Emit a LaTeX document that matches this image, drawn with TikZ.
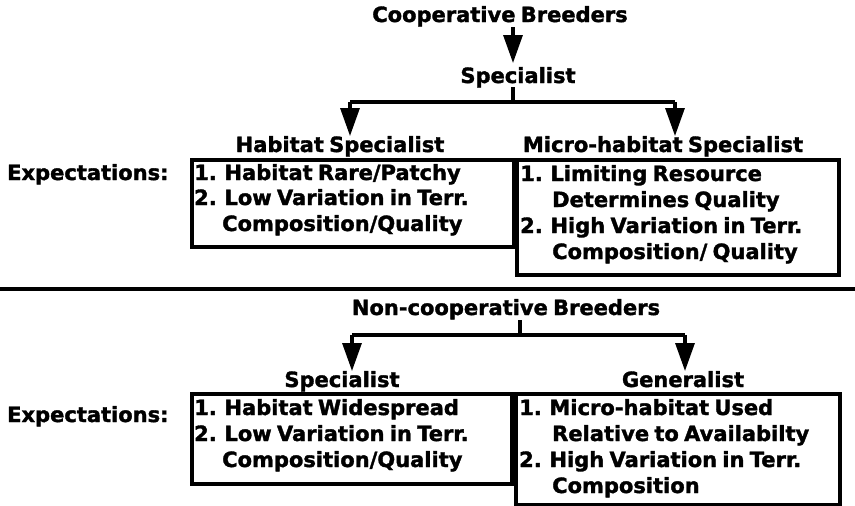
\documentclass[tikz,border=0pt]{standalone}
\usepackage{fontspec}
\setmainfont{DejaVu Sans}[BoldFeatures={FakeBold=1.6}]
\usetikzlibrary{arrows.meta}
\newcommand\diagfont{\fontsize{21}{25}\selectfont\bfseries\spaceskip=0.25em plus 0.1em\relax}
\tikzset{
  lbl/.style={font=\diagfont, inner sep=0pt},
  ln/.style={lbl, anchor=base west},
  ttl/.style={lbl, anchor=base},
  frame/.style={draw, line width=4pt, inner sep=0pt, anchor=north west},
  conn/.style={line width=3.2pt},
  arr/.style={line width=3.2pt, -{Triangle[length=28pt,width=19pt]}},
}
\begin{document}
\begin{tikzpicture}[x=1pt,y=-1pt]
\useasboundingbox (0,0) rectangle (855,506);
% top half
\node[ttl] (coop) at (500,22) {Cooperative Breeders};
\node[ttl] (spec1) at (518,83) {Specialist};
\coordinate (a0) at (513,27);
\coordinate (a1) at (513,63);
\draw[arr] (a0) -- (a1);
\coordinate (j0) at (513,87);
\coordinate (j1) at (513,102);
\node[ttl] (hs) at (340,152) {Habitat Specialist};
\node[ttl] (ms) at (663,152) {Micro-habitat Specialist};
\coordinate (l1) at (350,102);
\coordinate (r1) at (675,102);
\coordinate (l1e) at (350,136);
\coordinate (r1e) at (675,136);
\draw[conn] (j0) -- (j1);
\draw[conn] (l1) -- (r1);
\draw[arr] (l1) -- (l1e);
\draw[arr] (r1) -- (r1e);
\node[frame, minimum width=322, minimum height=87] (hsbox) at (190,158) {};
\node[frame, minimum width=322, minimum height=115] (msbox) at (515,158) {};
\node[ln] (exp1) at (7,180) {Expectations:};
\node[ln] (hs1) at (194,180) {1. Habitat Rare/Patchy};
\node[ln] (hs2) at (194,205) {2. Low Variation in Terr.};
\node[ln] (hs3) at (222,231) {Composition/Quality};
\node[ln] (ms1) at (520,181) {1. Limiting Resource};
\node[ln] (ms2) at (552,207) {Determines Quality};
\node[ln] (ms3) at (520,233) {2. High Variation in Terr.};
\node[ln] (ms4) at (552,259) {Composition/ Quality};
% rule
\coordinate (ruleL) at (0,289);
\coordinate (ruleR) at (855,289);
\draw[line width=3.6pt] (ruleL) -- (ruleR);
% bottom half
\node[ttl] (ncoop) at (506,315) {Non-cooperative Breeders};
\coordinate (j2a) at (520,320);
\coordinate (j2) at (520,335);
\coordinate (l2) at (352,335);
\coordinate (r2) at (685,335);
\coordinate (l2e) at (352,371);
\coordinate (r2e) at (685,371);
\draw[conn] (j2a) -- (j2);
\draw[conn] (l2) -- (r2);
\draw[arr] (l2) -- (l2e);
\draw[arr] (r2) -- (r2e);
\node[ttl] (spec2) at (342,387) {Specialist};
\node[ttl] (gen) at (683,387) {Generalist};
\node[frame, minimum width=320, minimum height=90] (sbox) at (190,392) {};
\node[frame, minimum width=324, minimum height=111] (gbox) at (514,392) {};
\node[ln] (exp2) at (7,422) {Expectations:};
\node[ln] (s1) at (194,415) {1. Habitat Widespread};
\node[ln] (s2) at (194,441) {2. Low Variation in Terr.};
\node[ln] (s3) at (222,467) {Composition/Quality};
\node[ln] (g1) at (519,415) {1. Micro-habitat Used};
\node[ln] (g2) at (552,441) {Relative to Availabilty};
\node[ln] (g3) at (519,467) {2. High Variation in Terr.};
\node[ln] (g4) at (552,493) {Composition};
\end{tikzpicture}
\end{document}
